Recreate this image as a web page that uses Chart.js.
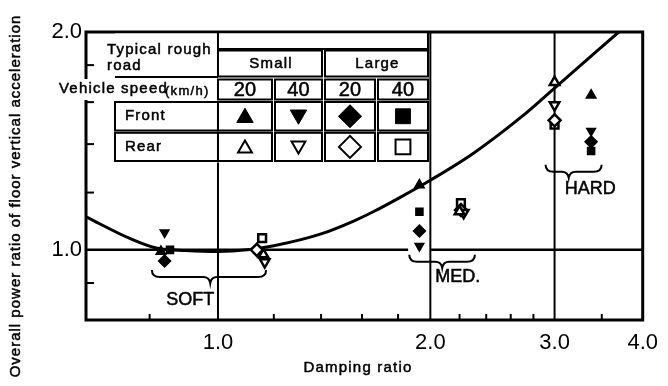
<!DOCTYPE html>
<html>
<head>
<meta charset="utf-8">
<script src="https://cdn.jsdelivr.net/npm/chart.js@4.4.1/dist/chart.umd.min.js"></script>
<style>
  html, body { margin: 0; padding: 0; background: #fff; }
  canvas { display: block; }
</style>
</head>
<body>
<canvas id="chart" width="668" height="386"></canvas>
<script>
// Fitted trend of power ratio against damping ratio
const curveDamping = [0.65, 0.75, 0.82, 0.9, 1.0, 1.1, 1.2, 1.4, 1.56, 1.66, 1.81, 2.0, 2.3, 2.7, 3.0, 3.7];
const curvePower   = [1.111, 1.037, 1.005, 0.998, 0.995, 1.0, 1.013, 1.052, 1.097, 1.129, 1.181, 1.248, 1.359, 1.53, 1.673, 2.0];

// Front axle measurements (SOFT, MED, HARD settings)
const frontSmall20Damping = [0.83, 1.93, 3.38];
const frontSmall20Power   = [0.995, 1.229, 1.636];
const frontSmall40Damping = [0.84, 1.93, 3.38];
const frontSmall40Power   = [1.057, 1.012, 1.46];
const frontLarge20Damping = [0.84, 1.93, 3.38];
const frontLarge20Power   = [0.965, 1.062, 1.41];
const frontLarge40Damping = [0.855, 1.93, 3.38];
const frontLarge40Power   = [1.0, 1.129, 1.37];

// Rear axle measurements (SOFT, MED, HARD settings)
const rearSmall20Damping = [1.16, 2.2, 3.0];
const rearSmall20Power   = [0.985, 1.13, 1.705];
const rearSmall40Damping = [1.165, 2.23, 3.0];
const rearSmall40Power   = [0.962, 1.125, 1.585];
const rearLarge20Damping = [1.135, 2.21, 3.0];
const rearLarge20Power   = [1.0, 1.135, 1.51];
const rearLarge40Damping = [1.155, 2.21, 3.0];
const rearLarge40Power   = [1.038, 1.16, 1.49];

// Axis ticks
const xLabelTicks = [1.0, 2.0, 3.0, 4.0];
const xMinorTicks = [0.8, 1.2, 1.4, 1.6, 1.8, 2.2, 2.4, 2.6, 2.8, 3.5];
const yLabelTicks = [1.0, 2.0];
const yMinorTicks = [0.9, 1.2, 1.4, 1.6, 1.8];
const xGridLines  = [1.0, 2.0, 3.0];

// Key table texts
const roadSizes = ['Small', 'Large'];
const speeds    = ['20', '40', '20', '40'];
const axles     = ['Front', 'Rear'];

// Damper setting groups: name, span of damping ratio, brace tip, level
const groupNames = ['SOFT', 'MED.', 'HARD'];
const groupFrom  = [0.806, 1.867, 2.913];
const groupTo    = [1.17, 2.313, 3.498];
const groupTip   = [0.975, 2.079, 3.142];
const groupLevel = [0.917, 0.963, 1.282];

const numFont  = "'Liberation Sans', Arial, sans-serif";
const textFont = "'Liberation Sans', Arial, sans-serif";

const markerStyles = [
  { style: 'triangle', rot: 0 },
  { style: 'triangle', rot: 180 },
  { style: 'rectRot',  rot: 0 },
  { style: 'rect',     rot: 0 }
];

function points(xs, ys) { return xs.map((v, i) => ({ x: v, y: ys[i] })); }

function frontSet(label, xs, ys, k, r) {
  return {
    label, data: points(xs, ys), showLine: false, order: 0,
    pointStyle: markerStyles[k].style, pointRotation: markerStyles[k].rot, pointRadius: r,
    pointBackgroundColor: '#000', pointBorderColor: '#000', pointBorderWidth: 1.5
  };
}
function rearSet(label, xs, ys, k, r) {
  return {
    label, data: points(xs, ys), showLine: false, order: 1,
    pointStyle: markerStyles[k].style, pointRotation: markerStyles[k].rot, pointRadius: r,
    pointBackgroundColor: '#fff', pointBorderColor: '#000', pointBorderWidth: 2.5
  };
}

function line(ctx, x1, y1, x2, y2) {
  ctx.beginPath(); ctx.moveTo(x1, y1); ctx.lineTo(x2, y2); ctx.stroke();
}

// filled text with a hairline outline so it reads as heavy as the print
function heavyText(ctx, s, x, y) {
  ctx.fillText(s, x, y);
  ctx.lineWidth = 0.5;
  ctx.strokeText(s, x, y);
}

function brace(ctx, x1, x2, xm, yb, rise, tip) {
  ctx.beginPath();
  ctx.moveTo(x1, yb - rise);
  ctx.quadraticCurveTo(x1, yb, x1 + 8, yb);
  ctx.lineTo(xm - 7, yb);
  ctx.quadraticCurveTo(xm - 1, yb, xm, yb + tip);
  ctx.quadraticCurveTo(xm + 1, yb, xm + 7, yb);
  ctx.lineTo(x2 - 8, yb);
  ctx.quadraticCurveTo(x2, yb, x2, yb - rise);
  ctx.stroke();
}

const decor = {
  id: 'decor',
  beforeDatasetsDraw(chart) {
    const { ctx, chartArea: a, scales: { x, y } } = chart;
    ctx.save();
    ctx.strokeStyle = '#000';
    ctx.lineWidth = 2;
    xGridLines.forEach(v => { const p = x.getPixelForValue(v); line(ctx, p, a.top, p, a.bottom); });
    const p1 = y.getPixelForValue(1.0);
    ctx.lineWidth = 2.5;
    line(ctx, a.left, p1, x.getPixelForValue(1.86), p1);
    line(ctx, x.getPixelForValue(2.0), p1, a.right, p1);
    ctx.lineWidth = 2;
    xMinorTicks.forEach(v => { const p = x.getPixelForValue(v); line(ctx, p, a.bottom, p, a.bottom - 6); });
    yMinorTicks.forEach(v => { const p = y.getPixelForValue(v); line(ctx, a.left, p, a.left + 8, p); });
    ctx.lineWidth = 3;
    ctx.strokeRect(a.left, a.top, a.right - a.left, a.bottom - a.top);
    ctx.restore();
  },
  afterDatasetsDraw(chart) {
    const { ctx, chartArea: a, scales: { x, y } } = chart;
    ctx.save();
    ctx.strokeStyle = '#000';
    ctx.fillStyle = '#000';

    // setting braces and their names
    const nameAlign = ['right', 'left', 'left'];
    const nameDx = [4, -7, -4];
    const nameDy = [23, 15, 17];
    ctx.font = '18px ' + textFont;
    ctx.textBaseline = 'middle';
    groupNames.forEach((n, i) => {
      const x1 = x.getPixelForValue(groupFrom[i]);
      const x2 = x.getPixelForValue(groupTo[i]);
      const xm = x.getPixelForValue(groupTip[i]);
      const yb = y.getPixelForValue(groupLevel[i]);
      ctx.lineWidth = 2;
      brace(ctx, x1, x2, xm, yb, 7, 6);
      ctx.textAlign = nameAlign[i];
      heavyText(ctx, n, xm + nameDx[i], yb + nameDy[i]);
    });

    // key table
    const xa = x.getPixelForValue(1.0);
    const t = a.top;
    const cols = [[0, 54], [57, 104], [107, 157], [160, 210]];
    const rows = { top: [0, 17], size: [18.5, 44.5], speed: [47.5, 67.5], axle: [[70, 98.5], [100.8, 129]] };
    ctx.fillStyle = '#fff';
    ctx.fillRect(xa - 103, t + 1.5, 313, 129);
    ctx.fillRect(a.left - 27, t + 47, xa - a.left + 27, 21);
    ctx.lineWidth = 2;
    const box = (l, r, tp, b) => ctx.strokeRect(xa + l, t + tp, r - l, b - tp);
    box(0, 210, rows.top[0], rows.top[1]);
    box(cols[0][0], cols[1][1], rows.size[0], rows.size[1]);
    box(cols[2][0], cols[3][1], rows.size[0], rows.size[1]);
    cols.forEach(c => box(c[0], c[1], rows.speed[0], rows.speed[1]));
    rows.axle.forEach(rw => {
      box(-103, 0, rw[0], rw[1]);
      cols.forEach(c => box(c[0], c[1], rw[0], rw[1]));
    });
    line(ctx, xa - 103, t + 45, xa, t + 45);

    ctx.fillStyle = '#000';
    ctx.textBaseline = 'middle';
    ctx.textAlign = 'left';
    ctx.font = '15px ' + textFont;
    ctx.letterSpacing = '1.2px';
    heavyText(ctx, 'Typical rough', xa - 111, t + 18);
    heavyText(ctx, 'road', xa - 111, t + 34);
    heavyText(ctx, 'Vehicle speed', xa - 159, t + 57);
    axles.forEach((n, i) => heavyText(ctx, n, xa - 93, t + (rows.axle[i][0] + rows.axle[i][1]) / 2));
    ctx.font = '13px ' + textFont;
    ctx.letterSpacing = '1.3px';
    heavyText(ctx, '(km/h)', xa - 53, t + 59);
    ctx.textAlign = 'center';
    ctx.font = '15px ' + textFont;
    ctx.letterSpacing = '1.2px';
    roadSizes.forEach((n, i) => {
      const l = cols[i * 2][0], r = cols[i * 2 + 1][1];
      heavyText(ctx, n, xa + (l + r) / 2 + 1, t + (rows.size[0] + rows.size[1]) / 2);
    });
    ctx.letterSpacing = '0px';
    ctx.font = '20px ' + numFont;
    speeds.forEach((n, i) => heavyText(ctx, n, xa + (cols[i][0] + cols[i][1]) / 2, t + (rows.speed[0] + rows.speed[1]) / 2 + 1));

    const frontR = [9.5, 9.5, 11.5, 10.5];
    const rearR = [8, 8, 11, 10.5];
    markerStyles.forEach((m, i) => {
      const cx = xa + (cols[i][0] + cols[i][1]) / 2;
      const fy = t + (rows.axle[0][0] + rows.axle[0][1]) / 2;
      const ry = t + (rows.axle[1][0] + rows.axle[1][1]) / 2;
      const dy = m.style === 'triangle' ? (m.rot ? -1.5 : 1.5) : 0;
      ctx.fillStyle = '#000'; ctx.strokeStyle = '#000'; ctx.lineWidth = 1;
      Chart.helpers.drawPoint(ctx, { pointStyle: m.style, rotation: m.rot, radius: frontR[i], borderWidth: 1 }, cx, fy + dy);
      ctx.fillStyle = '#fff'; ctx.lineWidth = 2;
      Chart.helpers.drawPoint(ctx, { pointStyle: m.style, rotation: m.rot, radius: rearR[i], borderWidth: 2 }, cx, ry + dy);
    });
    ctx.restore();
  },
  afterDraw(chart) {
    const { ctx } = chart;
    ctx.save();
    ctx.fillStyle = '#000';
    ctx.strokeStyle = '#000';
    ctx.textAlign = 'center';
    ctx.textBaseline = 'middle';
    ctx.font = '15px ' + textFont;
    ctx.letterSpacing = '1.2px';
    heavyText(ctx, 'Damping ratio', 358, 368);
    ctx.letterSpacing = '1px';
    ctx.translate(16, 196);
    ctx.rotate(-Math.PI / 2);
    heavyText(ctx, 'Overall power ratio of floor vertical acceleration', 0, 0);
    ctx.restore();
  }
};

new Chart(document.getElementById('chart').getContext('2d'), {
  type: 'scatter',
  data: {
    datasets: [
      {
        label: 'Trend', type: 'line',
        data: points(curveDamping, curvePower),
        borderColor: '#000', borderWidth: 3, pointRadius: 0,
        cubicInterpolationMode: 'monotone', fill: false, order: 2
      },
      frontSet('Front, small road, 20 km/h', frontSmall20Damping, frontSmall20Power, 0, 5.5),
      frontSet('Front, small road, 40 km/h', frontSmall40Damping, frontSmall40Power, 1, 5),
      frontSet('Front, large road, 20 km/h', frontLarge20Damping, frontLarge20Power, 2, 6),
      frontSet('Front, large road, 40 km/h', frontLarge40Damping, frontLarge40Power, 3, 5),
      rearSet('Rear, small road, 20 km/h', rearSmall20Damping, rearSmall20Power, 0, 5.5),
      rearSet('Rear, small road, 40 km/h', rearSmall40Damping, rearSmall40Power, 1, 5.5),
      rearSet('Rear, large road, 20 km/h', rearLarge20Damping, rearLarge20Power, 2, 6),
      rearSet('Rear, large road, 40 km/h', rearLarge40Damping, rearLarge40Power, 3, 5.5)
    ]
  },
  options: {
    responsive: false,
    animation: false,
    layout: { padding: { top: 32, right: 16, left: 0, bottom: 0 } },
    plugins: { legend: { display: false }, tooltip: { enabled: false } },
    scales: {
      x: {
        type: 'logarithmic', min: 0.65, max: 4.0,
        grid: { display: false, drawTicks: false }, border: { display: false },
        afterBuildTicks: s => { s.ticks = xLabelTicks.map(v => ({ value: v })); },
        afterFit: s => { s.height = 66; },
        ticks: {
          autoSkip: false, maxRotation: 0, padding: 10, color: '#000',
          font: { family: numFont, size: 22 },
          callback: v => Number(v).toFixed(1)
        }
      },
      y: {
        type: 'logarithmic', min: 0.8, max: 2.0,
        grid: { display: false, drawTicks: false }, border: { display: false },
        afterBuildTicks: s => { s.ticks = yLabelTicks.map(v => ({ value: v })); },
        afterFit: s => { s.width = 86; },
        ticks: {
          autoSkip: false, padding: 4, color: '#000',
          font: { family: numFont, size: 22 },
          callback: v => Number(v).toFixed(1)
        }
      }
    }
  },
  plugins: [decor]
});
</script>
</body>
</html>
